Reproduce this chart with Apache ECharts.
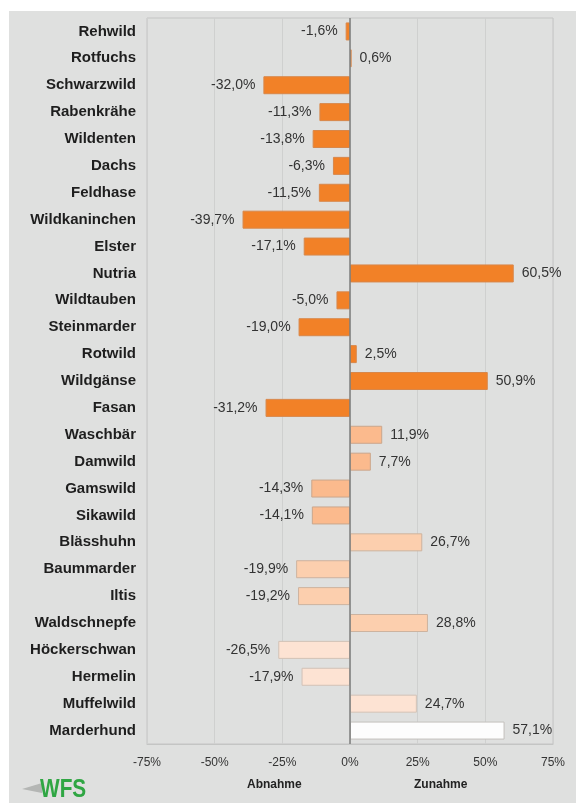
<!DOCTYPE html>
<html>
<head>
<meta charset="utf-8">
<script src="https://cdn.jsdelivr.net/npm/echarts@6/dist/echarts.min.js"></script>
<style>
  html, body { margin: 0; padding: 0; background: #fff; }
  #chart { width: 576px; height: 803px; }
</style>
</head>
<body>
<div id="chart"></div>
<script>
// Arten (von oben nach unten)
var species = ['Rehwild', 'Rotfuchs', 'Schwarzwild', 'Rabenkrähe', 'Wildenten', 'Dachs', 'Feldhase',
  'Wildkaninchen', 'Elster', 'Nutria', 'Wildtauben', 'Steinmarder', 'Rotwild', 'Wildgänse', 'Fasan',
  'Waschbär', 'Damwild', 'Gamswild', 'Sikawild', 'Blässhuhn', 'Baummarder', 'Iltis', 'Waldschnepfe',
  'Höckerschwan', 'Hermelin', 'Muffelwild', 'Marderhund'];
// Veränderung in %
var change = [-1.6, 0.6, -32.0, -11.3, -13.8, -6.3, -11.5, -39.7, -17.1, 60.5, -5.0, -19.0, 2.5, 50.9, -31.2,
  11.9, 7.7, -14.3, -14.1, 26.7, -19.9, -19.2, 28.8, -26.5, -17.9, 24.7, 57.1];
// Farbgruppe je Art
var group = [0, 0, 0, 0, 0, 0, 0, 0, 0, 0, 0, 0, 0, 0, 0,
  1, 1, 1, 1, 2, 2, 2, 2, 3, 3, 3, 4];
var xTicks = [-75, -50, -25, 0, 25, 50, 75];

var palette = ['#f28127', '#fbba8d', '#fccfae', '#fde3d3', '#fdfdfd'];
var borders = ['#d8874a', '#caa68c', '#cdb39f', '#d2c2b6', '#c4c0bc'];

var chart = echarts.init(document.getElementById('chart'));

function fmt(v) {
  return v.toFixed(1).replace('.', ',') + '%';
}

var barData = change.map(function (v, i) {
  return {
    value: v,
    itemStyle: { color: palette[group[i]], borderColor: borders[group[i]], borderWidth: 1 },
    label: { position: v < 0 ? 'left' : 'right' }
  };
});

chart.setOption({
  animation: false,
  backgroundColor: '#ffffff',
  textStyle: { fontFamily: 'Liberation Sans, Arial, sans-serif' },
  graphic: [
    { type: 'rect', z: -10, shape: { x: 9, y: 11, width: 567, height: 792 }, style: { fill: '#dfe0df' } },
    { type: 'polygon', z: 10, shape: { points: [[22, 789], [42, 783], [42, 793]] }, style: { fill: '#b4b6b4' } },
    { type: 'text', z: 10, x: 40, y: 777, scaleX: 0.8,
      style: { text: 'WFS', fill: '#2fa643', font: 'bold 26px "Liberation Sans", Arial, sans-serif' } },
    { type: 'text', z: 10, left: 247, top: 779,
      style: { text: 'Abnahme', fill: '#222', font: 'bold 12px "Liberation Sans", Arial, sans-serif' } },
    { type: 'text', z: 10, left: 414, top: 779,
      style: { text: 'Zunahme', fill: '#222', font: 'bold 12px "Liberation Sans", Arial, sans-serif' } }
  ],
  grid: {
    left: 147, right: 23, top: 18, bottom: 59,
    show: true, borderColor: '#c4c5c4', borderWidth: 1, backgroundColor: '#dfe0df'
  },
  xAxis: {
    type: 'value',
    min: xTicks[0], max: xTicks[xTicks.length - 1], interval: 25,
    axisLine: { show: true, lineStyle: { color: '#c4c5c4' } },
    axisTick: { show: false },
    splitLine: { lineStyle: { color: '#cfd0cf' } },
    axisLabel: { formatter: function (v) { return v + '%'; }, color: '#333', fontSize: 12, margin: 13 }
  },
  yAxis: {
    type: 'category',
    data: species,
    inverse: true,
    axisLine: { show: false },
    axisTick: { show: false },
    axisLabel: { color: '#1e1e1e', fontSize: 15, fontWeight: 'bold', margin: 11 }
  },
  series: [{
    type: 'bar',
    data: barData,
    barWidth: 18,
    label: {
      show: true,
      color: '#333',
      fontSize: 14,
      distance: 8,
      formatter: function (p) { return fmt(p.value); }
    },
    markLine: {
      silent: true,
      symbol: 'none',
      label: { show: false },
      lineStyle: { color: '#7d7e7d', width: 1.5, type: 'solid' },
      data: [{ xAxis: 0 }]
    }
  }]
});
</script>
</body>
</html>
